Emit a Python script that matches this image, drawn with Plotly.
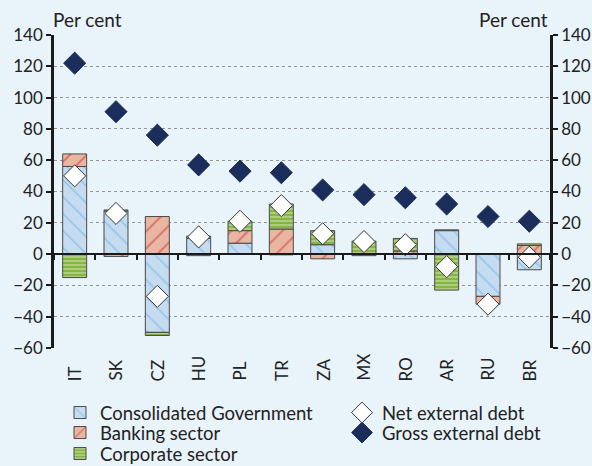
import plotly.graph_objects as go

countries = ["IT", "SK", "CZ", "HU", "PL", "TR", "ZA", "MX", "RO", "AR", "RU", "BR"]
gov = [56, 27.5, -50, 10, 7, -0.5, 6, 0.3, -3, 15, -27, -10]
bank = [8, -1.5, 24, -1, 8, 16, -3, -1, 2, 0.5, -5, 5.5]
corp = [-15, 0.7, -2, 1.5, 6, 16, 9, 8, 8, -23, 0, 1]
net = [50, 26, -27, 11, 21, 31, 13, 8, 6, -8, -32, -2]
gross = [122, 91, 76, 57, 53, 52, 41, 38, 36, 32, 24, 21]

FONT = "Lato, 'Open Sans', sans-serif"
TXT = "#222222"
BG = "#E9F3FA"
LEG_FONT = dict(family=FONT, size=18.5, color=TXT)

fig = go.Figure()
fig.add_trace(go.Bar(
    x=countries, y=gov, name="Consolidated Government", legend="legend",
    marker=dict(color="#C4DBF0", line=dict(color="#4A4A4A", width=1),
                pattern=dict(shape="\\", fgcolor="#5DA9DD", bgcolor="#C4DBF0", size=12, solidity=0.12)),
))
fig.add_trace(go.Bar(
    x=countries, y=bank, name="Banking sector", legend="legend2",
    marker=dict(color="#E8B6A2", line=dict(color="#4A4A4A", width=1),
                pattern=dict(shape="/", fgcolor="#C1272D", bgcolor="#E8B6A2", size=12, solidity=0.15)),
))
fig.add_trace(go.Bar(
    x=countries, y=corp, name="Corporate sector", legend="legend3",
    marker=dict(color="#8DBA4C", line=dict(color="#4A4A4A", width=1),
                pattern=dict(shape="-", fgcolor="#E4F0D2", bgcolor="#86B544", size=4, solidity=0.4)),
))
fig.add_trace(go.Scatter(
    x=countries, y=net, name="Net external debt", mode="markers", legend="legend4",
    marker=dict(symbol="diamond", size=17, color="white", line=dict(color="#333333", width=1)),
))
fig.add_trace(go.Scatter(
    x=countries, y=gross, name="Gross external debt", mode="markers", legend="legend5",
    marker=dict(symbol="diamond", size=17, color="#1B2D5A", line=dict(color="#1B2D5A", width=1)),
))
# helper traces for secondary axes (tick marks on zero line, right y axis)
fig.add_trace(go.Scatter(x=countries, y=net, xaxis="x2", yaxis="y", mode="markers",
                         marker=dict(opacity=0), showlegend=False, hoverinfo="skip"))
fig.add_trace(go.Scatter(x=countries, y=net, xaxis="x", yaxis="y2", mode="markers",
                         marker=dict(opacity=0), showlegend=False, hoverinfo="skip"))

yaxis_common = dict(
    range=[-60, 140], dtick=20, tick0=0, gridcolor="#949494",
    griddash="dot", gridwidth=1, showline=True, linecolor="#1A1A1A", linewidth=2.5,
    ticks="outside", ticklen=5, tickwidth=2, tickcolor="#1A1A1A",
    tickfont=dict(family=FONT, size=17, color=TXT), zeroline=False, automargin=False,
)


def leg(xpx, ypx):
    return dict(x=xpx / 592, xanchor="left", xref="container",
                y=1 - ypx / 466, yanchor="middle", yref="container",
                orientation="v", bgcolor="rgba(0,0,0,0)", font=LEG_FONT,
                tracegroupgap=0, itemwidth=30)


# category labels: rotated, bottom-aligned like the reference
cat_labels = [
    dict(text=c, x=c, xref="x", y=-0.112, yref="paper", textangle=-90,
         xanchor="center", yanchor="bottom", showarrow=False,
         font=dict(family=FONT, size=17, color=TXT))
    for c in countries
]

fig.update_layout(
    width=592, height=466,
    paper_bgcolor=BG, plot_bgcolor=BG,
    barmode="relative", bargap=0.42,
    margin=dict(l=54, r=42, t=35, b=118, autoexpand=False),
    font=dict(family=FONT, size=17, color=TXT),
    xaxis=dict(type="category", categoryarray=countries, range=[-0.5, 11.5],
               showline=False, ticks="", showticklabels=False, automargin=False,
               showgrid=False, zeroline=False),
    xaxis2=dict(type="category", categoryarray=countries, range=[-0.5, 11.5],
                overlaying="x", anchor="free", position=0.3, side="bottom",
                showline=True, linecolor="#1A1A1A", linewidth=2,
                ticks="outside", tickson="boundaries", ticklen=5, tickwidth=2, tickcolor="#1A1A1A",
                showticklabels=False, showgrid=False, zeroline=False),
    yaxis=dict(side="left", showgrid=True, **yaxis_common),
    yaxis2=dict(side="right", overlaying="y", anchor="x", showgrid=False, **yaxis_common),
    legend=leg(60, 413),
    legend2=leg(60, 433),
    legend3=leg(60, 454),
    legend4=leg(342, 413),
    legend5=leg(342, 433),
    annotations=[
        dict(text="Per cent", xref="paper", yref="paper", x=0, y=1, xanchor="left", yanchor="bottom",
             showarrow=False, yshift=2, xshift=-3, font=dict(family=FONT, size=19, color=TXT)),
        dict(text="Per cent", xref="paper", yref="paper", x=1, y=1, xanchor="right", yanchor="bottom",
             showarrow=False, yshift=2, xshift=0, font=dict(family=FONT, size=19, color=TXT)),
    ] + cat_labels,
)

fig.write_html("out.html", config={"displayModeBar": False},
               post_script="document.body.style.margin='0';document.body.style.padding='0';")
